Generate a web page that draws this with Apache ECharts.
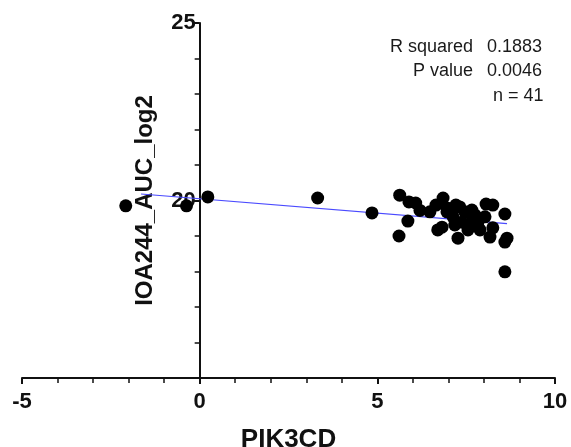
<!DOCTYPE html>
<html>
<head>
<meta charset="utf-8">
<script src="https://cdn.jsdelivr.net/npm/echarts@6/dist/echarts.min.js"></script>
<style>
html,body{margin:0;padding:0;background:#fff;}
#chart{width:571px;height:447px;}
</style>
</head>
<body>
<div id="chart"></div>
<script>
// PIK3CD expression values (x)
var pik3cd = [-2.08, -0.37, 0.23, 3.32, 4.85, 5.63, 5.89, 6.08, 5.86, 5.61,
  6.48, 6.85, 6.70, 6.96, 7.13, 7.32, 7.46, 7.66, 7.69, 7.83,
  8.06, 8.25, 8.59, 7.27, 8.17, 8.65, 8.59, 8.59, 6.82, 7.55,
  7.89, 8.25, 6.96, 6.65, 7.18, 7.38, 8.03, 7.61, 7.21, 7.75, 6.20];
// IOA244_AUC_log2 values (y)
var auc = [19.85, 19.85, 20.10, 20.07, 19.65, 20.15, 19.96, 19.93, 19.42, 19.00,
  19.68, 20.07, 19.17, 19.68, 19.54, 19.82, 19.68, 19.73, 19.51, 19.37,
  19.90, 19.87, 19.62, 18.94, 18.97, 18.94, 18.83, 17.99, 19.25, 19.17,
  19.17, 19.23, 19.79, 19.87, 19.31, 19.39, 19.54, 19.31, 19.87, 19.59, 19.72];
// Linear fit
var fitSlope = -0.081;
var fitIntercept = 20.05;
var fitX = [-1.65, 8.65];
// Statistics text
var statLabels = ['R squared', 'P value'];
var statValues = ['0.1883', '0.0046'];
var nText = 'n = 41';
// Axis ticks
var xTicks = [-5, 0, 5, 10];
var yTicks = [15, 20, 25];

var points = pik3cd.map(function (x, i) { return [x, auc[i]]; });
var fitLine = fitX.map(function (x) { return [x, fitIntercept + fitSlope * x]; });

var FONT = 'Liberation Sans, Arial, sans-serif';
var gridLeft = 22, gridRight = 16;
var plotW = 571 - gridLeft - gridRight;
// shift y axis to sit at x = 0 of the x scale
var yAxisOffset = -plotW * (0 - xTicks[0]) / (xTicks[xTicks.length - 1] - xTicks[0]);

var chart = echarts.init(document.getElementById('chart'));
var statY = [48, 72];
var graphics = [];
statLabels.forEach(function (t, i) {
  graphics.push({type: 'text', right: 571 - 473, top: statY[i] - 10,
    style: {text: t, font: '18px ' + FONT, fill: '#1a1a1a', textAlign: 'right'}});
  graphics.push({type: 'text', left: 487, top: statY[i] - 10,
    style: {text: statValues[i], font: '18px ' + FONT, fill: '#1a1a1a'}});
});
graphics.push({type: 'text', left: 493, top: 97 - 10,
  style: {text: nText, font: '18px ' + FONT, fill: '#1a1a1a'}});

chart.setOption({
  animation: false,
  grid: {left: gridLeft, right: gridRight, top: 23, bottom: 69, containLabel: false, outerBoundsMode: 'none'},
  xAxis: {
    type: 'value', min: xTicks[0], max: xTicks[xTicks.length - 1], interval: 5,
    name: 'PIK3CD', nameLocation: 'middle', nameGap: 49,
    nameTextStyle: {fontFamily: FONT, fontWeight: 'bold', fontSize: 26, color: '#111'},
    axisLine: {onZero: false, lineStyle: {color: '#111', width: 2}},
    axisTick: {show: true, length: 6, lineStyle: {color: '#111', width: 2}},
    minorTick: {show: true, splitNumber: 5, length: 5, lineStyle: {color: '#111', width: 1.5}},
    axisLabel: {fontFamily: FONT, fontWeight: 'bold', fontSize: 22, color: '#111', margin: 13},
    splitLine: {show: false}
  },
  yAxis: {
    type: 'value', min: yTicks[0], max: yTicks[yTicks.length - 1], interval: 5,
    position: 'left', offset: yAxisOffset,
    name: 'IOA244_AUC_log2', nameLocation: 'middle', nameGap: 42, nameRotate: 90,
    nameTextStyle: {fontFamily: FONT, fontWeight: 'bold', fontSize: 24, color: '#111'},
    axisLine: {onZero: false, lineStyle: {color: '#111', width: 2}},
    axisTick: {show: true, length: 6, lineStyle: {color: '#111', width: 2}},
    minorTick: {show: true, splitNumber: 5, length: 5, lineStyle: {color: '#111', width: 1.5}},
    axisLabel: {fontFamily: FONT, fontWeight: 'bold', fontSize: 22, color: '#111', margin: 4,
      formatter: function (v) { return v === yTicks[0] ? '' : String(v); }},
    splitLine: {show: false}
  },
  graphic: graphics,
  series: [
    {type: 'line', data: fitLine, symbol: 'none', z: 1,
      lineStyle: {color: '#4a4aff', width: 1.2}},
    {type: 'scatter', data: points, symbol: 'circle', symbolSize: 13, z: 2,
      itemStyle: {color: '#000', opacity: 1}}
  ]
});
</script>
</body>
</html>
